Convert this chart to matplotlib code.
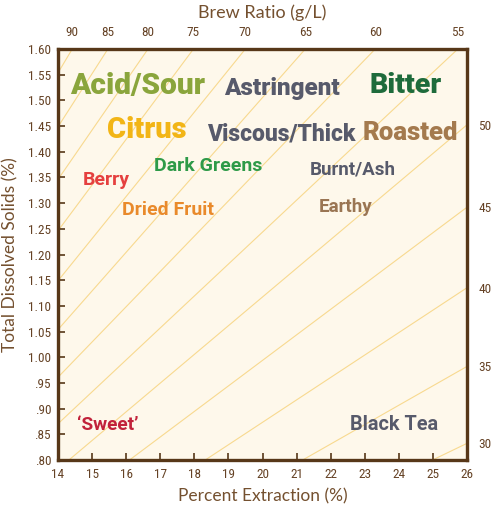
import numpy as np
import matplotlib
matplotlib.use('Agg')
import matplotlib.pyplot as plt
from matplotlib import font_manager

# Data
extraction_ticks = [14, 15, 16, 17, 18, 19, 20, 21, 22, 23, 24, 25, 26]
tds_ticks = [0.80, 0.85, 0.90, 0.95, 1.00, 1.05, 1.10, 1.15, 1.20, 1.25, 1.30,
             1.35, 1.40, 1.45, 1.50, 1.55, 1.60]
tds_labels = ['.80', '.85', '.90', '.95', '1.00', '1.05', '1.10', '1.15', '1.20',
              '1.25', '1.30', '1.35', '1.40', '1.45', '1.50', '1.55', '1.60']
ratios = [90, 85, 80, 75, 70, 65, 60, 55, 50, 45, 40, 35, 30]   # g/L guide lines
top_ratios = [90, 85, 80, 75, 70, 65, 60, 55]
right_ratios = [50, 45, 40, 35, 30]
absorption = 2.1   # g water retained per g coffee

flavours = ['Acid/Sour', 'Astringent', 'Bitter', 'Citrus', 'Viscous/Thick', 'Roasted',
            'Dark Greens', 'Berry', 'Dried Fruit', 'Burnt/Ash', 'Earthy', '\u2018Sweet\u2019',
            'Black Tea']
flavour_x = [16.32, 20.56, 24.20, 16.59, 20.56, 24.35, 18.41, 15.41, 17.24, 22.65, 22.44,
             15.47, 23.85]
flavour_y = [1.528, 1.524, 1.528, 1.442, 1.435, 1.437, 1.372, 1.345, 1.287, 1.366, 1.292,
             0.868, 0.870]
flavour_size = [21.5, 17.5, 20.5, 21, 16.5, 18.5, 14, 14, 14, 13.5, 13.5, 13.8, 14.3]
flavour_heavy = [True, True, True, True, True, True, False, False, False, False, False,
                 False, False]
flavour_color = ['#8AA53C', '#575A6B', '#1E6B3B', '#F2B516', '#575A6B', '#A47A4E',
                 '#2E9A48', '#E5403F', '#E98A2B', '#575A6B', '#9A7553', '#C1223A',
                 '#575A6B']

fonts = font_manager.fontManager.ttflist
names = {f.name for f in fonts}
narrow = next((n for n in ['Liberation Sans Narrow', 'Roboto Condensed', 'Roboto']
               if n in names), 'DejaVu Sans')
flav_font = 'Roboto' if 'Roboto' in names else 'Lato'
main_font = 'Lato' if 'Lato' in names else 'DejaVu Sans'

brown = '#573718'
label_brown = '#74502F'
tick_brown = '#654225'

def tds_for(ratio, ext):
    return ext * ratio / (1000 - absorption * ratio)

def ext_for(ratio, tds):
    return tds * (1000 - absorption * ratio) / ratio

fig = plt.figure(figsize=(5.01, 5.11), dpi=100)
ax = fig.add_axes([0.1158, 0.0998, 0.8164, 0.8043])
ax.set_facecolor('#FEF8EB')

ext = np.array([14.0, 26.0])
for r in ratios:
    ax.plot(ext, tds_for(r, ext), color='#F8D98F', linewidth=0.8, zorder=1)

for name, x, y, s, hv, c in zip(flavours, flavour_x, flavour_y, flavour_size,
                                flavour_heavy, flavour_color):
    ax.text(x, y, name, fontsize=s, color=c, fontweight='black' if hv else 'bold',
            family=flav_font, ha='center', va='center', zorder=3)

ax.set_xlim(14, 26)
ax.set_ylim(0.80, 1.60)
ax.set_xticks(extraction_ticks)
ax.set_yticks(tds_ticks)
ax.set_yticklabels(tds_labels)
for sp in ax.spines.values():
    sp.set_color(brown)
    sp.set_linewidth(2.4)
ax.tick_params(direction='in', length=5, width=1.2, color=brown, labelcolor=tick_brown,
               labelsize=9.5)
ax.tick_params(axis='x', pad=6)
ax.tick_params(axis='y', pad=5)
for lab in ax.get_xticklabels() + ax.get_yticklabels():
    lab.set_family(narrow)

ax.set_xlabel('Percent Extraction (%)', fontsize=12.5, color=label_brown,
              family=main_font, labelpad=5)
ax.set_ylabel('Total Dissolved Solids (%)', fontsize=12.5, color=label_brown,
              family=main_font, labelpad=7)

# top axis: brew ratio where each line meets the top edge
ax_top = ax.twiny()
ax_top.set_xlim(ax.get_xlim())
ax_top.set_xticks([ext_for(r, 1.60) for r in top_ratios])
ax_top.set_xticklabels([str(r) for r in top_ratios])
ax_top.tick_params(axis='x', length=0, pad=7, labelcolor=tick_brown, labelsize=9.5)
for lab in ax_top.get_xticklabels():
    lab.set_family(narrow)
ax_top.set_xlabel('Brew Ratio (g/L)', fontsize=13, color=label_brown,
                  family=main_font, labelpad=6)

# right axis: brew ratio where each line meets the right edge
ax_right = ax.twinx()
ax_right.set_ylim(ax.get_ylim())
ax_right.set_yticks([tds_for(r, 26) for r in right_ratios])
ax_right.set_yticklabels([str(r) for r in right_ratios])
ax_right.tick_params(axis='y', length=0, pad=8, labelcolor=tick_brown, labelsize=9.5)
for lab in ax_right.get_yticklabels():
    lab.set_family(narrow)
for a in (ax_top, ax_right):
    for sp in a.spines.values():
        sp.set_visible(False)

fig.savefig('out.png', dpi=100, facecolor='white')
